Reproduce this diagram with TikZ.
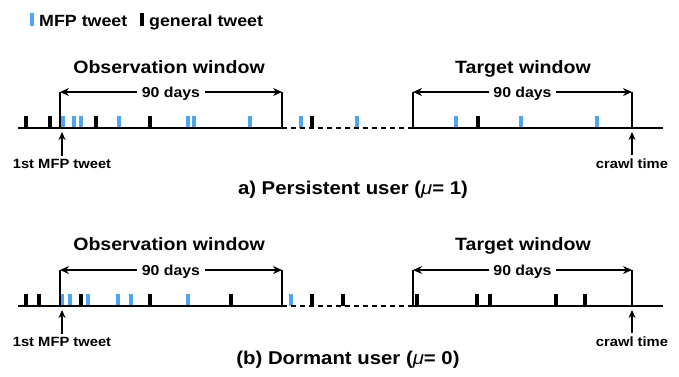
\documentclass[tikz,border=0pt]{standalone}
\usepackage{fontspec}
\usetikzlibrary{arrows.meta}
\newfontfamily\lab[FakeStretch=1.1]{Liberation Sans}
\definecolor{tweetblue}{RGB}{80,165,242}
\begin{document}
\begin{tikzpicture}[x=1pt,y=-1pt,
  title/.style={font=\lab\bfseries\fontsize{17.8}{20}\selectfont, inner sep=0pt, anchor=base},
  days/.style={font=\lab\bfseries\fontsize{14.4}{16}\selectfont, inner xsep=4.5pt, inner ysep=0pt, anchor=base},
  small/.style={font=\lab\bfseries\fontsize{13.4}{15}\selectfont, inner xsep=0pt, inner ysep=3pt, anchor=base},
  legend/.style={font=\lab\bfseries\fontsize{16.2}{18}\selectfont, inner sep=0pt, anchor=base west},
  caption/.style={font=\lab\bfseries\fontsize{18.5}{21}\selectfont, inner sep=0pt, anchor=base},
  axis/.style={line width=2pt},
  dashaxis/.style={line width=2pt, dash pattern=on 5pt off 4pt},
  win/.style={line width=1.3pt},
  dim/.style={line width=1.3pt, -{Stealth[length=9pt,width=8pt]}},
  upar/.style={line width=1.3pt, -{Stealth[length=8pt,width=7pt]}},
  mfp/.style={fill=tweetblue},
  gen/.style={fill=black},
]
\useasboundingbox (0,0) rectangle (679,376);

% legend
\fill[mfp] (30,13) rectangle (34,26);
\node[legend] (lg1) at (39,26) {MFP tweet};
\fill[gen] (140,13) rectangle (144,26);
\node[legend] (lg2) at (149,26) {general tweet};

% ---------- row a ----------
\node[title] (obsa) at (169,73.5) {Observation window};
\node[title] (tara) at (523,73.5) {Target window};

\coordinate (oa1) at (60,92);
\coordinate (oa2) at (282,92);
\coordinate (ta1) at (413,92);
\coordinate (ta2) at (632,92);
\coordinate (ax0) at (18,128);
\coordinate (axo1) at (60,128);
\coordinate (axo2) at (282,128);
\coordinate (axt1) at (413,128);
\coordinate (axt2) at (632,128);
\coordinate (ax3) at (663,128);

\foreach \x in {26,50,96,150,312,478}
  \fill[gen] (\x-2,115.5) rectangle (\x+2,128);
\foreach \x in {63,74,81,119,188,194,250,301,357,456,521,597}
  \fill[mfp] (\x-1.8,115.5) rectangle (\x+1.8,128);

\draw[axis] (ax0) -- (axo2);
\draw[dashaxis] (axo2) -- (axt1);
\draw[axis] (axt1) -- (ax3);
\draw[win] (axo1) -- (oa1);
\draw[win] (axo2) -- (oa2);
\draw[win] (axt1) -- (ta1);
\draw[win] (axt2) -- (ta2);

\node[days] (da1) at (171,97.5) {90 days};
\draw[dim] (da1.west |- oa1) -- (oa1);
\draw[dim] (da1.east |- oa2) -- (oa2);
\node[days] (da2) at (522.5,97.5) {90 days};
\draw[dim] (da2.west |- ta1) -- (ta1);
\draw[dim] (da2.east |- ta2) -- (ta2);

\node[small] (fa) at (62,168.3) {1st MFP tweet};
\coordinate (fat) at (62,132);
\draw[upar] (fa.north -| fat) -- (fat);
\node[small] (ca) at (632,168.3) {crawl time};
\coordinate (cat) at (632,132);
\draw[upar] (ca.north -| cat) -- (cat);

\node[caption] (capa) at (353,194.3) {a) Persistent user ({\fontseries{m}\itshape μ}= 1)};

% ---------- row b ----------
\node[title] (obsb) at (169,250) {Observation window};
\node[title] (tarb) at (523,250) {Target window};

\coordinate (ob1) at (60,270);
\coordinate (ob2) at (282,270);
\coordinate (tb1) at (413,270);
\coordinate (tb2) at (632,270);
\coordinate (bx0) at (18,306);
\coordinate (bxo1) at (60,306);
\coordinate (bxo2) at (282,306);
\coordinate (bxt1) at (413,306);
\coordinate (bxt2) at (632,306);
\coordinate (bx3) at (663,306);

\foreach \x in {26,39,81,150,231,312,343,417,477,490,556,585}
  \fill[gen] (\x-2,293.5) rectangle (\x+2,306);
\foreach \x in {62,70,88,118,131,188,291}
  \fill[mfp] (\x-1.8,293.5) rectangle (\x+1.8,306);

\draw[axis] (bx0) -- (bxo2);
\draw[dashaxis] (bxo2) -- (bxt1);
\draw[axis] (bxt1) -- (bx3);
\draw[win] (bxo1) -- (ob1);
\draw[win] (bxo2) -- (ob2);
\draw[win] (bxt1) -- (tb1);
\draw[win] (bxt2) -- (tb2);

\node[days] (db1) at (171,275.5) {90 days};
\draw[dim] (db1.west |- ob1) -- (ob1);
\draw[dim] (db1.east |- ob2) -- (ob2);
\node[days] (db2) at (522.5,275.5) {90 days};
\draw[dim] (db2.west |- tb1) -- (tb1);
\draw[dim] (db2.east |- tb2) -- (tb2);

\node[small] (fb) at (62,346.3) {1st MFP tweet};
\coordinate (fbt) at (62,310);
\draw[upar] (fb.north -| fbt) -- (fbt);
\node[small] (cb) at (632,346.3) {crawl time};
\coordinate (cbt) at (632,310);
\draw[upar] (cb.north -| cbt) -- (cbt);

\node[caption] (capb) at (348,364) {(b) Dormant user ({\fontseries{m}\itshape μ}= 0)};
\end{tikzpicture}
\end{document}
